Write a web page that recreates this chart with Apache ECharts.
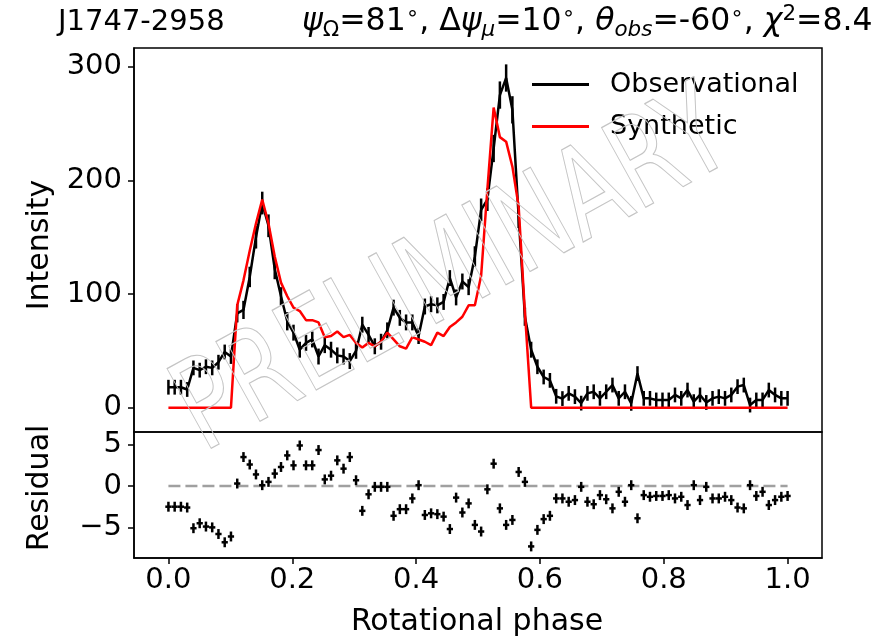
<!DOCTYPE html>
<html>
<head>
<meta charset="utf-8">
<script src="https://cdn.jsdelivr.net/npm/echarts@6/dist/echarts.min.js"></script>
<style>
html,body{margin:0;padding:0;background:#fff;}
#chart{width:893px;height:643px;}
</style>
</head>
<body>
<div id="chart"></div>
<script>
// Pulse profile of J1747-2958: observed intensity, synthetic model and normalised residuals
const OBS = [
  18, 18, 18, 16, 35, 33, 36, 35, 40, 49,
  45, 83, 86, 115, 150, 180, 160, 122, 98, 76,
  66, 51, 57, 60, 45, 55, 51, 46, 45, 41,
  50, 73, 64, 54, 58, 68, 88, 79, 75, 75,
  63, 89, 91, 90, 93, 114, 97, 111, 106, 133,
  174, 183, 228, 275, 290, 262, 168, 80, 51, 36,
  27, 24, 10, 8, 12.6, 9.7, 4, 12.6, 14, 8.2,
  14, 19.9, 8.2, 14, 3.8, 30, 8.2, 8.2, 6.8, 6.8,
  6.8, 11.2, 8.2, 15.5, 5.3, 11.2, 4.6, 8.2, 9.7, 8.2,
  11.2, 18.5, 19.9, 2.3, 6.8, 6.8, 15.5, 11.2, 8.2, 8.2
];
const OBS_ERR = [
  6.5, 6.5, 6.5, 6.5, 6.5, 6.5, 6.5, 6.5, 6.5, 6.5,
  6.5, 8, 8, 9, 10, 10, 10, 9, 8, 8,
  7, 7, 7, 7, 7, 7, 7, 7, 7, 7,
  7, 7, 7, 7, 7, 7, 7, 7, 7, 7,
  7, 7, 7, 7, 7, 7, 7, 7, 7, 9,
  10, 10, 12, 12, 12, 12, 10, 8, 7, 6.5,
  6.5, 6.5, 6.5, 6.5, 6.5, 6.5, 6.5, 6.5, 6.5, 6.5,
  6.5, 6.5, 6.5, 6.5, 6.5, 6.5, 6.5, 6.5, 6.5, 6.5,
  6.5, 6.5, 6.5, 6.5, 6.5, 6.5, 6.5, 6.5, 6.5, 6.5,
  6.5, 6.5, 6.5, 6.5, 6.5, 6.5, 6.5, 6.5, 6.5, 6.5
];
const SYN = [
  0, 0, 0, 0, 0, 0, 0, 0, 0, 0,
  0, 90, 112, 138, 162, 183, 162, 133, 110, 98,
  88, 85, 77, 77, 75, 62, 63, 67, 62, 64,
  57, 53, 57, 54, 58, 66, 60, 54, 52, 62,
  60, 58, 55, 66, 63, 71, 75, 80, 90, 90,
  116, 192, 264, 238, 234, 212, 177, 84, 0, 0,
  0, 0, 0, 0, 0, 0, 0, 0, 0, 0,
  0, 0, 0, 0, 0, 0, 0, 0, 0, 0,
  0, 0, 0, 0, 0, 0, 0, 0, 0, 0,
  0, 0, 0, 0, 0, 0, 0, 0, 0, 0
];
const RESID = [
  -2.5, -2.5, -2.5, -2.6, -5.1, -4.5, -4.9, -5.0, -5.8, -6.8,
  -6.1, 0.3, 3.5, 2.6, 1.4, 0.1, 0.5, 1.5, 2.3, 3.7,
  2.5, 4.9, 2.5, 2.5, 4.35, 0.8, 1.25, 3.1, 2.1, 3.5,
  0.7, -3.0, -1.0, -0.1, -0.1, -0.1, -3.6, -2.8, -2.8, -1.5,
  0.1, -3.5, -3.3, -3.4, -3.7, -5.2, -1.4, -3.2, -2.1, -4.7,
  -5.5, -0.4, 2.7, -2.7, -4.7, -4.1, 1.7, 0.5, -7.3, -5.3,
  -4.0, -3.6, -1.5, -1.5, -1.9, -1.7, -0.1, -1.9, -2.2, -1.1,
  -1.6, -2.7, -0.7, -1.9, 0.1, -3.9, -1.1, -1.3, -1.2, -1.2,
  -1.1, -1.5, -1.3, -2.3, 0.1, -1.7, -0.1, -1.5, -1.5, -1.3,
  -1.7, -2.6, -2.7, 0.1, -1.2, -0.7, -2.3, -1.7, -1.3, -1.2
];
const RESID_ERR = 0.6;

const X_TICKS = [0, 0.2, 0.4, 0.6, 0.8, 1.0];
const Y_TICKS = [0, 100, 200, 300];
const R_TICKS = [-5, 0, 5];

const FONT = '"DejaVu Sans", sans-serif';
const N = OBS.length;
const PHASE = OBS.map((_, i) => i / (N - 1));
const HALF_BIN = 0.5 / (N - 1);

const obsLine = PHASE.map((p, i) => [p, OBS[i]]);
const obsBars = PHASE.map((p, i) => [p, OBS[i], OBS_ERR[i]]);
const synLine = PHASE.map((p, i) => [p, SYN[i]]);
const resBars = PHASE.map((p, i) => [p, RESID[i], RESID_ERR]);

// vertical error bar, optionally with a horizontal half-bin bar
function errorBars(halfWidth) {
  return function (params, api) {
    const x = api.value(0), y = api.value(1), e = api.value(2);
    const hi = api.coord([x, y + e]);
    const lo = api.coord([x, y - e]);
    const st = { stroke: '#000', lineWidth: 2.5 };
    const kids = [{ type: 'line', shape: { x1: hi[0], y1: hi[1], x2: lo[0], y2: lo[1] }, style: st }];
    if (halfWidth) {
      const l = api.coord([x - halfWidth, y]);
      const r = api.coord([x + halfWidth, y]);
      kids.push({ type: 'line', shape: { x1: l[0], y1: l[1], x2: r[0], y2: r[1] }, style: st });
    }
    return { type: 'group', children: kids };
  };
}

const tickStyle = { color: '#000', width: 1.5 };
const labelStyle = { color: '#000', fontSize: 29, fontFamily: FONT };
const fmtMinus = v => String(v).replace('-', '\u2212');

const chart = echarts.init(document.getElementById('chart'), null, { renderer: 'canvas' });

chart.setOption({
  backgroundColor: '#fff',
  animation: false,
  title: [
    {
      text: 'J1747-2958', left: 58, top: 3, padding: 0,
      textStyle: { fontSize: 29, fontWeight: 'normal', fontFamily: FONT, color: '#000', lineHeight: 38 }
    },
    {
      text: '{i|ψ}{sub|Ω}=81{sup|∘}, Δ{i|ψ}{subi|μ}=10{sup|∘}, {i|θ}{subi|obs}=-60{sup|∘}, {i|χ}{sup|2}=8.4',
      left: 302, top: 3, padding: 0,
      textStyle: {
        fontSize: 31.5, fontWeight: 'normal', fontFamily: FONT, color: '#000', lineHeight: 38,
        rich: {
          i: { fontSize: 31.5, fontStyle: 'italic', fontFamily: FONT, color: '#000', lineHeight: 38 },
          sub: { fontSize: 21.5, fontFamily: FONT, color: '#000', lineHeight: 20, verticalAlign: 'bottom' },
          subi: { fontSize: 21.5, fontStyle: 'italic', fontFamily: FONT, color: '#000', lineHeight: 20, verticalAlign: 'bottom' },
          sup: { fontSize: 21.5, fontFamily: FONT, color: '#000', lineHeight: 20, verticalAlign: 'top' }
        }
      }
    }
  ],
  legend: {
    orient: 'vertical', left: 527, top: 66, itemGap: 15,
    itemWidth: 57, itemHeight: 3, icon: 'rect',
    textStyle: { fontSize: 27, fontFamily: FONT, color: '#000', padding: [0, 0, 0, 16] },
    data: ['Observational', 'Synthetic']
  },
  grid: [
    { left: 134, top: 48, width: 688, height: 384, show: true, borderColor: '#000', borderWidth: 1.5, backgroundColor: 'transparent' },
    { left: 134, top: 432, width: 688, height: 126, show: true, borderColor: '#000', borderWidth: 1.5, backgroundColor: 'transparent' }
  ],
  xAxis: [
    {
      type: 'value', gridIndex: 0, min: -0.0556, max: 1.0556,
      axisLine: { show: false }, axisTick: { show: false }, axisLabel: { show: false }, splitLine: { show: false }
    },
    {
      type: 'value', gridIndex: 1, min: -0.0556, max: 1.0556,
      axisLine: { show: true, onZero: false, lineStyle: tickStyle },
      axisTick: { show: true, length: 6, lineStyle: tickStyle, customValues: X_TICKS },
      axisLabel: Object.assign({ margin: 8, customValues: X_TICKS, formatter: v => v.toFixed(1) }, labelStyle),
      splitLine: { show: false }
    }
  ],
  yAxis: [
    {
      type: 'value', gridIndex: 0, min: -21.4, max: 316.4,
      axisLine: { show: true, onZero: false, lineStyle: tickStyle },
      axisTick: { show: true, length: 6, lineStyle: tickStyle, customValues: Y_TICKS },
      axisLabel: Object.assign({ margin: 12, customValues: Y_TICKS }, labelStyle),
      splitLine: { show: false }
    },
    {
      type: 'value', gridIndex: 1, min: -8.7, max: 6.53,
      axisLine: { show: true, onZero: false, lineStyle: tickStyle },
      axisTick: { show: true, length: 6, lineStyle: tickStyle, customValues: R_TICKS },
      axisLabel: Object.assign({ margin: 12, customValues: R_TICKS, formatter: fmtMinus }, labelStyle),
      splitLine: { show: false }
    }
  ],
  series: [
    {
      name: 'Observational', type: 'line', xAxisIndex: 0, yAxisIndex: 0, data: obsLine,
      showSymbol: false, symbol: 'none', color: '#000', lineStyle: { color: '#000', width: 2.5 }, z: 3
    },
    {
      name: 'obsErr', type: 'custom', xAxisIndex: 0, yAxisIndex: 0, data: obsBars,
      renderItem: errorBars(0), encode: { x: 0, y: 1 }, z: 3
    },
    {
      name: 'Synthetic', type: 'line', xAxisIndex: 0, yAxisIndex: 0, data: synLine,
      showSymbol: false, symbol: 'none', color: '#ff0000', lineStyle: { color: '#ff0000', width: 2.5 }, z: 4
    },
    {
      name: 'zero', type: 'line', xAxisIndex: 1, yAxisIndex: 1, data: [[0, 0], [1, 0]],
      showSymbol: false, symbol: 'none', lineStyle: { color: '#a0a0a0', width: 2.5, type: [12, 5] }, z: 2
    },
    {
      name: 'resid', type: 'custom', xAxisIndex: 1, yAxisIndex: 1, data: resBars,
      renderItem: errorBars(HALF_BIN), encode: { x: 0, y: 1 }, z: 3
    }
  ],
  graphic: [
    {
      type: 'text', x: 40, y: 245, rotation: Math.PI / 2,
      style: { text: 'Intensity', font: '30px ' + FONT, fill: '#000', align: 'center', verticalAlign: 'middle' }
    },
    {
      type: 'text', x: 40, y: 488, rotation: Math.PI / 2,
      style: { text: 'Residual', font: '30px ' + FONT, fill: '#000', align: 'center', verticalAlign: 'middle' }
    },
    {
      type: 'text', x: 477, y: 622,
      style: { text: 'Rotational phase', font: '30px ' + FONT, fill: '#000', align: 'center', verticalAlign: 'middle' }
    },
    {
      type: 'text', x: 455, y: 276, rotation: 29 * Math.PI / 180, scaleX: 0.74, z: 100,
      style: { text: 'PRELIMINARY', font: '125px ' + FONT, fill: 'none', stroke: '#c4c4c4', lineWidth: 1.2, align: 'center', verticalAlign: 'middle' }
    }
  ]
});
</script>
</body>
</html>
